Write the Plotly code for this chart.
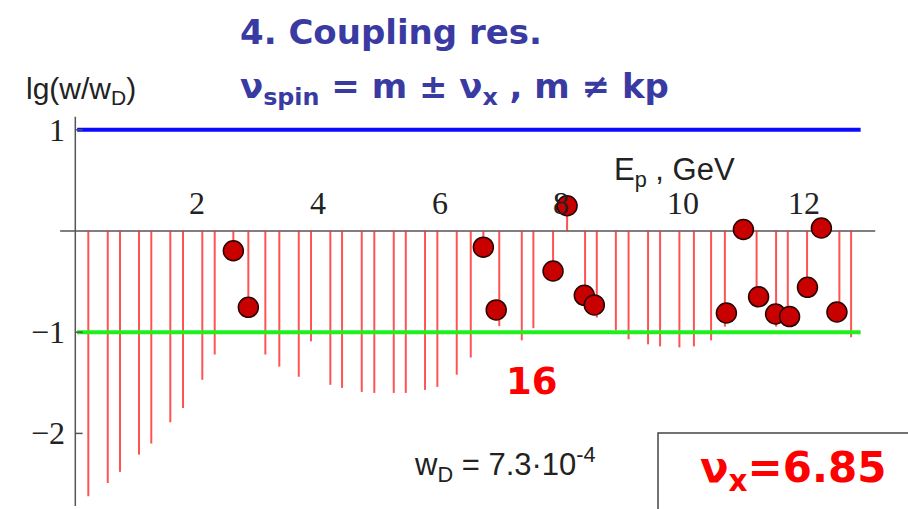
import plotly.graph_objects as go

# ---- data ----
stem_E = [0.214, 0.534, 0.736, 1.049, 1.251, 1.564, 1.773, 2.091, 2.295, 2.602,
          2.849, 3.129, 3.359, 3.679, 3.881, 4.199, 4.392, 4.716, 4.923, 5.243,
          5.441, 5.758, 5.961, 6.280, 6.511, 6.718, 6.980, 7.351, 7.542, 7.866,
          8.097, 8.393, 8.586, 8.900, 9.109, 9.430, 9.628, 9.946, 10.185, 10.468,
          10.695, 11.000, 11.217, 11.538, 11.731, 12.048, 12.284, 12.580, 12.773]
stem_lg = [-2.62, -2.49, -2.38, -2.21, -2.10, -1.89, -1.75, -1.47, -1.22, -0.195,
           -0.754, -1.22, -1.34, -1.44, -1.09, -1.52, -1.55, -1.59, -1.60, -1.60,
           -1.60, -1.57, -1.54, -1.42, -1.25, -0.16, -0.94, -1.08, -0.96, -0.395,
           0.25, -0.635, -0.855, -0.98, -1.07, -1.12, -1.14, -1.15, -1.14, -1.08,
           -0.945, 0.015, -0.65, -0.945, -0.945, -0.556, 0.03, -0.80, -1.05]

dot_E = [2.602, 2.849, 6.718, 6.930, 7.866, 8.097, 8.380, 8.545,
         10.720, 11.000, 11.250, 11.530, 11.760, 12.055, 12.284, 12.540]
dot_lg = [-0.195, -0.754, -0.16, -0.78, -0.395, 0.25, -0.635, -0.73,
          -0.81, 0.015, -0.65, -0.82, -0.845, -0.556, 0.03, -0.80]

x_ticks = [2, 4, 6, 8, 10, 12]
y_ticks = [1, -1, -2]
y_tick_labels = ["1", "\u22121", "\u22122"]
upper_level = 1
lower_level = -1
x_end = 12.93

# ---- figure ----
W, H = 908, 509
X0, XR = -1.24, 13.71
Y0, YR = -2.747, 2.283

fig = go.Figure()

# stems
sx, sy = [], []
for e, v in zip(stem_E, stem_lg):
    sx += [e, e, None]
    sy += [0, v, None]
fig.add_trace(go.Scatter(x=sx, y=sy, mode="lines",
                         line=dict(color="rgba(255,40,40,0.8)", width=2),
                         hoverinfo="skip", showlegend=False))

# reference levels
fig.add_trace(go.Scatter(x=[0.03, x_end], y=[upper_level, upper_level], mode="lines",
                         line=dict(color="#0a0aff", width=4), showlegend=False))
fig.add_trace(go.Scatter(x=[0.03, x_end], y=[lower_level, lower_level], mode="lines",
                         line=dict(color="#1ef01e", width=4), showlegend=False))

# dots
fig.add_trace(go.Scatter(x=dot_E, y=dot_lg, mode="markers",
                         marker=dict(size=20, color="#c80000",
                                     line=dict(color="#2a0000", width=1.5)),
                         showlegend=False))

# axes lines
fig.add_shape(type="line", x0=-0.25, x1=13.17, y0=0, y1=0,
              line=dict(color="#555555", width=1.5), layer="below")
fig.add_shape(type="line", x0=0, x1=0, y0=1.13, y1=YR - 5,
              line=dict(color="#555555", width=1.5), layer="below")
for t in y_ticks:
    fig.add_shape(type="line", x0=0, x1=0.12, y0=t, y1=t,
                  line=dict(color="#555555", width=1.5))

# tick labels
for t in x_ticks:
    fig.add_annotation(x=t, y=0, yshift=8, text=str(t), showarrow=False,
                       xanchor="center", yanchor="bottom",
                       font=dict(family="Liberation Serif", size=32, color="#222222"))
for t, lab in zip(y_ticks, y_tick_labels):
    fig.add_annotation(x=0, y=t, xshift=-8, text=lab, showarrow=False,
                       xanchor="right", yanchor="middle",
                       font=dict(family="Liberation Serif", size=32, color="#222222"))

def px(xp, yp):
    return xp / W, 1 - yp / H

blue = "#3a3aa3"
# title
x, y = px(238, 32)
fig.add_annotation(x=x, y=y, xref="paper", yref="paper", text="<b>4. Coupling res.</b>",
                   showarrow=False, xanchor="left", yanchor="middle",
                   font=dict(family="DejaVu Sans", size=34, color=blue))
x, y = px(238, 88)
fig.add_annotation(x=x, y=y, xref="paper", yref="paper",
                   text="<b>\u03bd<sub>spin</sub> = m \u00b1 \u03bd<sub>x</sub> , m \u2260 kp</b>",
                   showarrow=False, xanchor="left", yanchor="middle",
                   font=dict(family="DejaVu Sans", size=34, color=blue))
x, y = px(24, 90)
fig.add_annotation(x=x, y=y, xref="paper", yref="paper", text="lg(w/w<sub>D</sub>)",
                   showarrow=False, xanchor="left", yanchor="middle",
                   font=dict(family="Liberation Sans", size=30, color="#222222"))
x, y = px(612, 172)
fig.add_annotation(x=x, y=y, xref="paper", yref="paper", text="E<sub>p</sub> , GeV",
                   showarrow=False, xanchor="left", yanchor="middle",
                   font=dict(family="Liberation Sans", size=31, color="#222222"))
x, y = px(504, 381)
fig.add_annotation(x=x, y=y, xref="paper", yref="paper", text="<b>16</b>",
                   showarrow=False, xanchor="left", yanchor="middle",
                   font=dict(family="DejaVu Sans", size=37, color="#ff0000"))
x, y = px(412, 464)
fig.add_annotation(x=x, y=y, xref="paper", yref="paper",
                   text="w<sub>D</sub> = 7.3\u00b710<sup>-4</sup>",
                   showarrow=False, xanchor="left", yanchor="middle",
                   font=dict(family="Liberation Sans", size=31, color="#222222"))

# boxed tune
fig.add_shape(type="rect", xref="paper", yref="paper",
              x0=658 / W, x1=1.02, y0=-0.05, y1=1 - 433 / H,
              line=dict(color="#444444", width=1.5), fillcolor="white")
x, y = px(698, 470)
fig.add_annotation(x=x, y=y, xref="paper", yref="paper",
                   text="<b>\u03bd<sub>x</sub>=6.85</b>",
                   showarrow=False, xanchor="left", yanchor="middle",
                   font=dict(family="DejaVu Sans", size=42, color="#ff0000"))

fig.update_layout(
    width=W, height=H, margin=dict(l=0, r=0, t=0, b=0),
    paper_bgcolor="white", plot_bgcolor="white",
    xaxis=dict(range=[X0, XR], visible=False, fixedrange=True),
    yaxis=dict(range=[Y0, YR], visible=False, fixedrange=True),
)

fig.write_html("out.html")
